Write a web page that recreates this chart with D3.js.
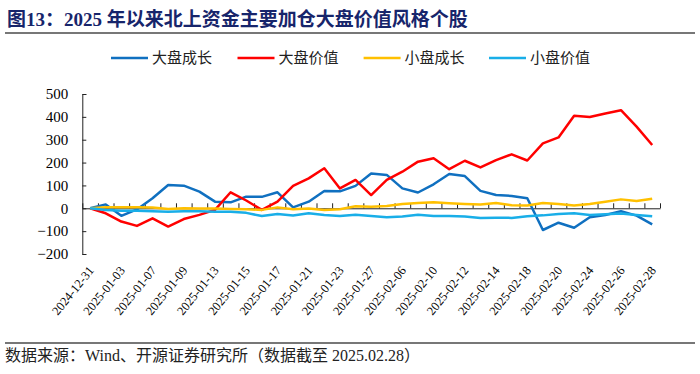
<!DOCTYPE html>
<html>
<head>
<meta charset="utf-8">
<script src="https://cdn.jsdelivr.net/npm/d3@7"></script>
<style>
  body { margin: 0; background: #fff; }
  svg { display: block; }
  .titulo { font-family: "Liberation Serif", "Noto Sans CJK SC", serif; font-weight: bold; font-size: 19px; fill: #17256b; }
  .fonte { font-family: "Liberation Serif", "Noto Sans CJK SC", serif; font-size: 16px; fill: #222; }
  .legenda { font-family: "Noto Sans CJK SC", sans-serif; font-size: 15px; fill: #222; }
  .eixo text { font-family: "Liberation Serif", serif; fill: #000; }
  .eixo path, .eixo line { stroke: #222; }
  .linha { fill: none; stroke-width: 2.5; stroke-linejoin: round; }
</style>
</head>
<body>
<svg id="grafico"></svg>
<script>
// datas (dias de negociação)
const datas = ['2024-12-31','2025-01-02','2025-01-03','2025-01-06','2025-01-07','2025-01-08','2025-01-09','2025-01-10',
  '2025-01-13','2025-01-14','2025-01-15','2025-01-16','2025-01-17','2025-01-20','2025-01-21','2025-01-22','2025-01-23',
  '2025-01-24','2025-01-27','2025-02-05','2025-02-06','2025-02-07','2025-02-10','2025-02-11','2025-02-12','2025-02-13',
  '2025-02-14','2025-02-17','2025-02-18','2025-02-19','2025-02-20','2025-02-21','2025-02-24','2025-02-25','2025-02-26',
  '2025-02-27','2025-02-28'];
const rotulosX = datas.filter((d, i) => i % 2 === 0);
const ticksY = [-200, -100, 0, 100, 200, 300, 400, 500];

const nomes = ['大盘成长', '大盘价值', '小盘成长', '小盘价值'];
const cores = ['#1070c0', '#ff0000', '#ffc000', '#19aee8'];

const daPanChengZhang = [0,17,-33,-5,44,102,99,73,29,26,51,50,70,4,29,76,74,98,152,146,87,69,105,150,141,76,58,54,44,-95,-63,-85,-39,-29,-13,-32,-70];
const daPanJiaZhi = [0,-22,-58,-77,-44,-80,-47,-29,-7,70,34,-7,29,98,131,175,87,124,58,124,160,204,219,171,208,179,211,236,209,284,310,405,399,415,429,357,277];
const xiaoPanChengZhang = [0,4,4,4,3,-3,0,-1,-1,-3,-4,-7,4,-4,-1,-7,-4,9,7,10,19,23,26,22,19,17,23,13,12,23,19,12,19,29,39,32,42];
const xiaoPanJiaZhi = [0,-7,-11,-11,-13,-15,-13,-13,-15,-15,-20,-34,-25,-32,-22,-29,-34,-28,-34,-39,-36,-28,-34,-34,-36,-42,-41,-42,-35,-31,-25,-22,-29,-26,-23,-29,-35];
const series = [daPanChengZhang, daPanJiaZhi, xiaoPanChengZhang, xiaoPanJiaZhi];

const svg = d3.select('#grafico').attr('width', 700).attr('height', 374);

// título e linhas de moldura
svg.append('text').attr('class', 'titulo').attr('x', 7).attr('y', 26)
    .text('图13：2025 年以来北上资金主要加仓大盘价值风格个股');
svg.append('line').attr('x1', 5).attr('x2', 695).attr('y1', 33).attr('y2', 33)
    .attr('stroke', '#777').attr('stroke-width', 2);
svg.append('line').attr('x1', 5).attr('x2', 695).attr('y1', 343).attr('y2', 343)
    .attr('stroke', '#777').attr('stroke-width', 2);
svg.append('text').attr('class', 'fonte').attr('x', 5).attr('y', 361)
    .text('数据来源：Wind、开源证券研究所（数据截至 2025.02.28）');

const margem = { esquerda: 82.3, direita: 40, superior: 94, inferior: 120 };
const largura = 700 - margem.esquerda - margem.direita;
const altura = 374 - margem.superior - margem.inferior;

const plotagem = svg.append('g')
    .attr('transform', `translate(${margem.esquerda}, ${margem.superior})`);

const x = d3.scaleBand().domain(datas).range([0, largura]);
const y = d3.scaleLinear().domain([-200, 500]).range([altura, 0]);
const xBordas = d3.scaleLinear().domain([0, datas.length]).range([0, largura]);

// eixo Y
plotagem.append('g').attr('class', 'eixo')
    .call(d3.axisLeft(y).tickValues(ticksY).tickSize(-4).tickSizeOuter(-4).tickPadding(14))
    .selectAll('text').style('font-size', '15px');

// eixo do zero com marcas entre as categorias
plotagem.append('g').attr('class', 'eixo')
    .attr('transform', `translate(0, ${y(0)})`)
    .call(d3.axisTop(xBordas).tickValues(d3.range(datas.length + 1)).tickFormat('').tickSize(5).tickSizeOuter(0));

// rótulos das datas
const eixoX = plotagem.append('g').attr('class', 'eixo')
    .attr('transform', `translate(0, ${altura + 14})`)
    .call(d3.axisBottom(x).tickValues(rotulosX).tickSize(0));
eixoX.select('.domain').remove();
eixoX.selectAll('text')
    .style('font-size', '12.5px')
    .attr('x', 0).attr('y', 0).attr('dy', '0.35em')
    .attr('text-anchor', 'end')
    .attr('transform', 'translate(1, 0) rotate(-51)');

// linhas
const linha = d3.line()
    .x((d, i) => x(datas[i]) + x.bandwidth() / 2)
    .y(d => y(d));

series.forEach((s, k) => {
  plotagem.append('path').datum(s).attr('class', 'linha')
      .attr('stroke', cores[k]).attr('d', linha);
});

// legenda
const posLegenda = [111, 237.5, 363.6, 489];
nomes.forEach((n, k) => {
  const g = svg.append('g').attr('transform', `translate(${posLegenda[k]}, 58)`);
  g.append('line').attr('x1', 0).attr('x2', 37).attr('y1', 0).attr('y2', 0)
      .attr('stroke', cores[k]).attr('stroke-width', 2.5);
  g.append('text').attr('class', 'legenda').attr('x', 41).attr('y', 0).attr('dy', '0.35em').text(n);
});
</script>
</body>
</html>
